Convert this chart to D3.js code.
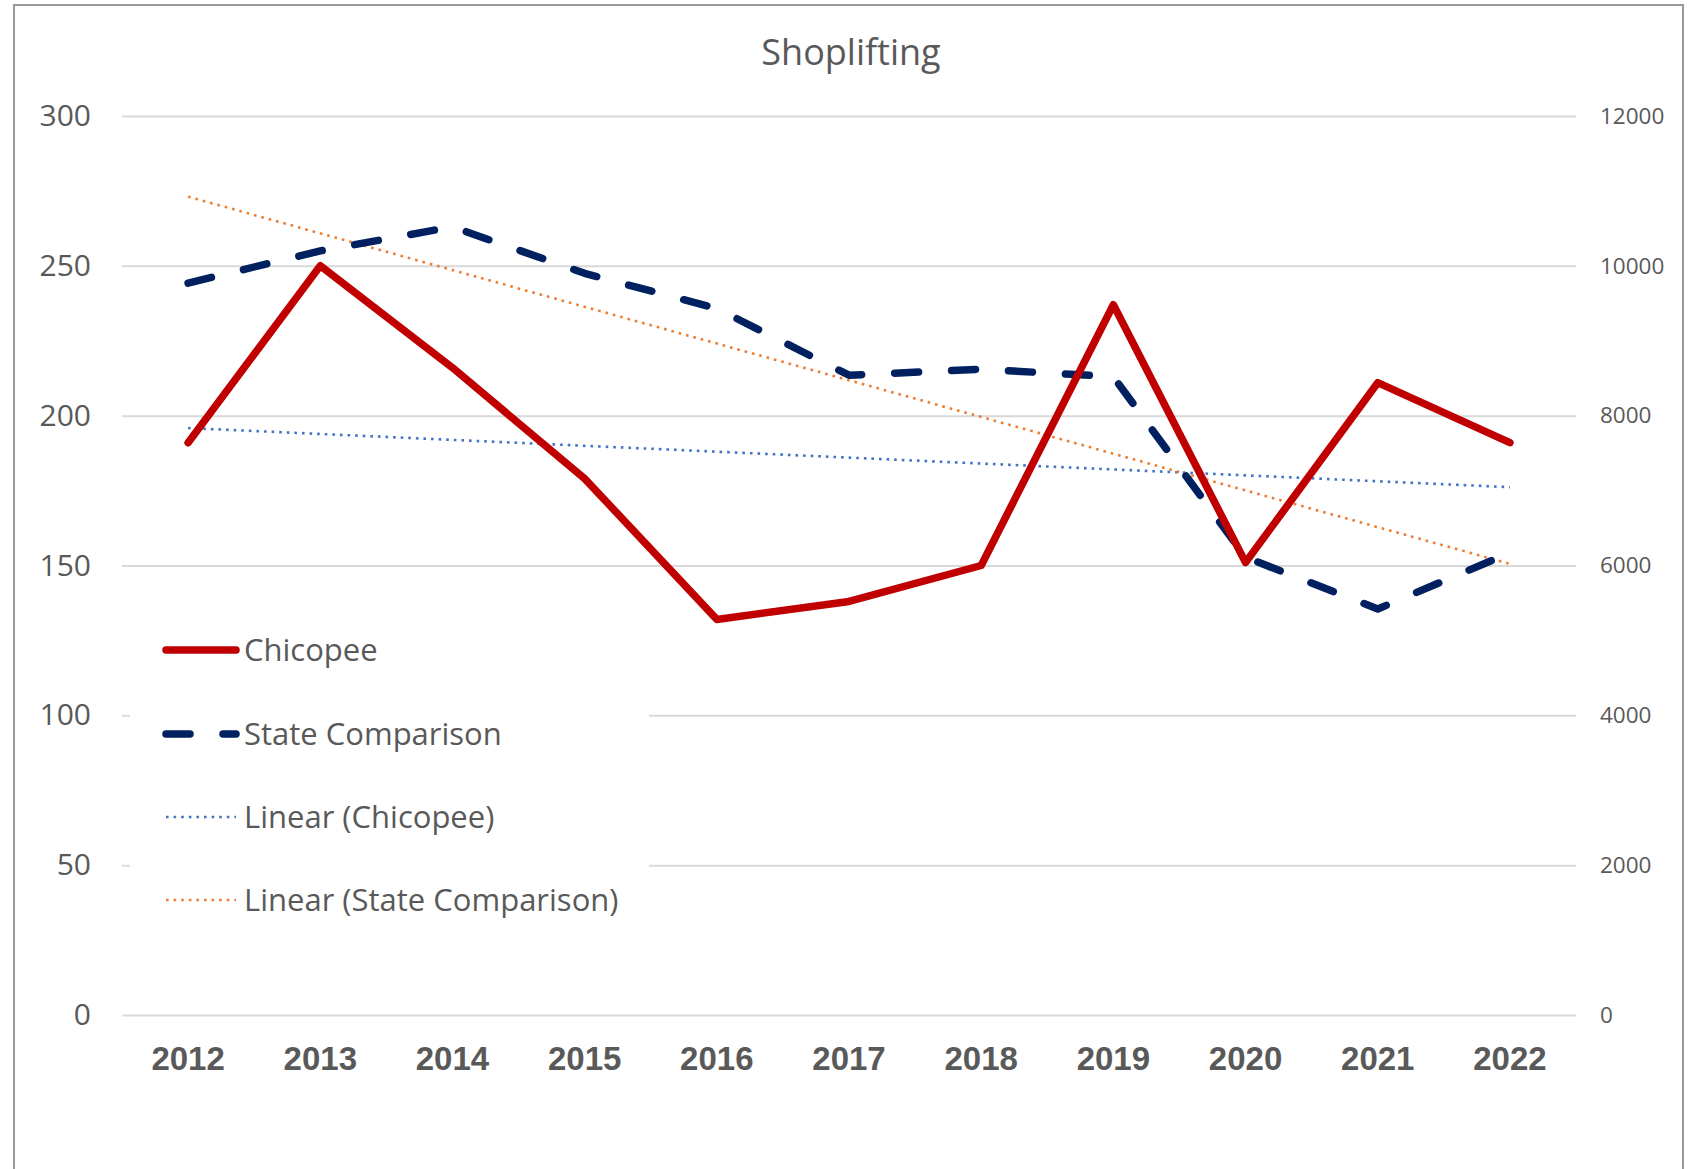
<!DOCTYPE html>
<html><head><meta charset="utf-8">
<script src="https://cdn.jsdelivr.net/npm/d3@7"></script>
<style>body{margin:0;background:#fff}svg{display:block}</style>
</head><body>
<svg id="c" width="1695" height="1169"></svg>
<script>
const years = ["2012","2013","2014","2015","2016","2017","2018","2019","2020","2021","2022"];
const chicopee = [191,250,216,179,132,138,150,237,151,211,191];
const state = [9770,10200,10520,9900,9430,8540,8620,8520,6110,5420,6170];
const leftTicks = [0,50,100,150,200,250,300];
const rightTicks = [0,2000,4000,6000,8000,10000,12000];
const legendLabels = ["Chicopee","State Comparison","Linear (Chicopee)","Linear (State Comparison)"];

const svg = d3.select("#c");
const L=122,R=1576,T=116,B=1015;
const FONT="'Open Sans', Roboto, sans-serif";
const gray="#595959";

svg.append("rect").attr("x",14).attr("y",5).attr("width",1669).attr("height",1200)
  .attr("fill","#fff").attr("stroke","#9a9a9a").attr("stroke-width",2);

const x = d3.scaleBand().domain(years).range([L,R]).padding(0);
const cx = d => x(d)+x.bandwidth()/2;
const yL = d3.scaleLinear().domain([0,300]).range([B,T]);
const yR = d3.scaleLinear().domain([0,12000]).range([B,T]);

const gAxL = svg.append("g").attr("transform",`translate(${L},0)`)
  .call(d3.axisLeft(yL).tickValues(leftTicks).tickSize(-(R-L)).tickFormat(d=>d).tickPadding(31));
gAxL.select(".domain").remove();
gAxL.selectAll(".tick line").attr("stroke","#d9d9d9").attr("stroke-width",2);
gAxL.selectAll(".tick text").attr("fill",gray).attr("font-family",FONT).attr("font-size",30);

const gAxR = svg.append("g").attr("transform",`translate(${R},0)`)
  .call(d3.axisRight(yR).tickValues(rightTicks).tickSize(0).tickFormat(d=>d).tickPadding(24));
gAxR.select(".domain").remove();
gAxR.selectAll(".tick text").attr("fill",gray).attr("font-family",FONT).attr("font-size",22.5);

const gAxX = svg.append("g").attr("transform",`translate(0,${B})`)
  .call(d3.axisBottom(x).tickSize(0).tickPadding(32));
gAxX.select(".domain").remove();
gAxX.selectAll(".tick text").attr("fill",gray).attr("font-family","'Liberation Sans', Arial, sans-serif")
  .attr("font-weight","bold").attr("font-size",33);

svg.append("text").attr("x",851).attr("y",65).attr("text-anchor","middle")
  .attr("font-family",FONT).attr("font-size",36).attr("fill",gray).text("Shoplifting");

function linreg(vals){
  const n=vals.length, xs=vals.map((_,i)=>i);
  const mx=d3.mean(xs), my=d3.mean(vals);
  let sxy=0,sxx=0; xs.forEach((xi,i)=>{sxy+=(xi-mx)*(vals[i]-my);sxx+=(xi-mx)**2;});
  const b=sxy/sxx, a=my-b*mx;
  return [a, a+b*(n-1)];
}
const trC = linreg(chicopee), trS = linreg(state);

svg.append("rect").attr("x",130).attr("y",610).attr("width",519).attr("height",330).attr("fill","#fff");

svg.append("line").attr("x1",cx(years[0])).attr("x2",cx(years[years.length-1]))
  .attr("y1",yL(trC[0])).attr("y2",yL(trC[1]))
  .attr("stroke","#4472C4").attr("stroke-width",2.6).attr("stroke-dasharray","2.6 5");
svg.append("line").attr("x1",cx(years[0])).attr("x2",cx(years[years.length-1]))
  .attr("y1",yR(trS[0])).attr("y2",yR(trS[1]))
  .attr("stroke","#ED7D31").attr("stroke-width",2.6).attr("stroke-dasharray","2.6 5");

const lineL = d3.line().x((d,i)=>cx(years[i])).y(d=>yL(d));
const lineR = d3.line().x((d,i)=>cx(years[i])).y(d=>yR(d));
svg.append("path").attr("d",lineR(state)).attr("fill","none").attr("stroke","#002060")
  .attr("stroke-width",7.5).attr("stroke-dasharray","24 33").attr("stroke-linecap","round").attr("stroke-linejoin","round");
svg.append("path").attr("d",lineL(chicopee)).attr("fill","none").attr("stroke","#C00000")
  .attr("stroke-width",7.5).attr("stroke-linecap","round").attr("stroke-linejoin","round");

const legY=[650,734,817,900];
const styles=[
  {c:"#C00000",w:7.5,d:null,cap:"round"},
  {c:"#002060",w:7.5,d:"24 33",cap:"round"},
  {c:"#4472C4",w:2.6,d:"2.6 5",cap:"butt"},
  {c:"#ED7D31",w:2.6,d:"2.6 5",cap:"butt"}
];
legendLabels.forEach((lab,i)=>{
  const s=styles[i];
  const ln=svg.append("line").attr("x1",166).attr("x2",236).attr("y1",legY[i]).attr("y2",legY[i])
    .attr("stroke",s.c).attr("stroke-width",s.w).attr("stroke-linecap",s.cap);
  if(s.d) ln.attr("stroke-dasharray",s.d);
  svg.append("text").attr("x",244).attr("y",legY[i]).attr("dy","0.35em")
    .attr("font-family",FONT).attr("font-size",31).attr("fill",gray).text(lab);
});
</script>
</body></html>
